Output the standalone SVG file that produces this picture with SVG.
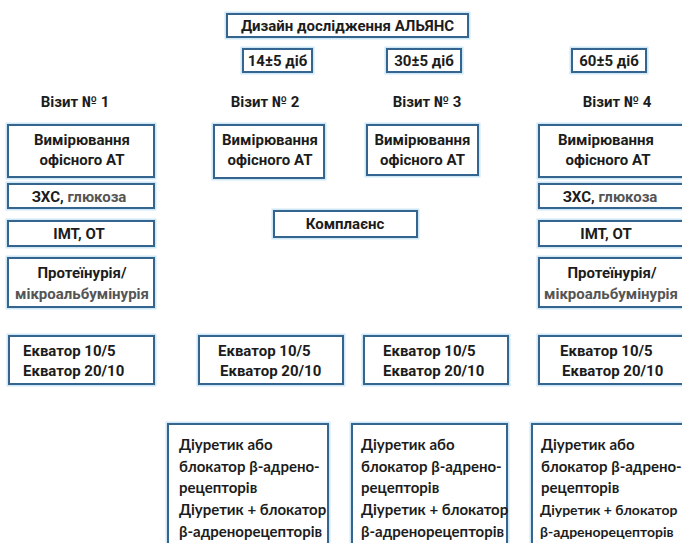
<svg xmlns="http://www.w3.org/2000/svg" width="682" height="543" viewBox="0 0 682 543">
<style>
.bx{fill:#ffffff;stroke:#35648f;stroke-width:2}
.halo{fill:none;stroke:#cfe8f5;stroke-width:5}
.t{font-family:Roboto,"Liberation Sans",sans-serif;font-weight:bold;font-size:15px;fill:#1c1c1c}
.v{font-family:Roboto,"Liberation Sans",sans-serif;font-weight:bold;font-size:15px;fill:#1c1c1c}
.e{font-family:Roboto,"Liberation Sans",sans-serif;font-weight:bold;font-size:15px;fill:#1c1c1c}
.d{font-family:Lato,"Open Sans",sans-serif;font-weight:bold;font-size:15px;fill:#1c1c1c}
.s{font-size:14px}
.c{text-anchor:middle}
.g{fill:#555555}
</style>
<rect width="682" height="543" fill="#ffffff"/>
<g id="connectors"/>
<g id="title"><rect class="halo" x="227" y="14" width="241" height="23"/><rect class="bx" x="227" y="14" width="241" height="23"/><text class="t c" x="347.5" y="30.5">Дизайн дослідження АЛЬЯНС</text></g>
<g id="d14"><rect class="halo" x="243" y="49" width="69" height="23"/><rect class="bx" x="243" y="49" width="69" height="23"/><text class="t c" x="277.5" y="66">14±5 діб</text></g>
<g id="d30"><rect class="halo" x="387" y="49" width="74" height="23"/><rect class="bx" x="387" y="49" width="74" height="23"/><text class="t c" x="424" y="66">30±5 діб</text></g>
<g id="d60"><rect class="halo" x="572" y="49" width="74" height="23"/><rect class="bx" x="572" y="49" width="74" height="23"/><text class="t c" x="609" y="66">60±5 діб</text></g>
<g id="visits">
<text class="v c" x="75" y="107">Візит № 1</text>
<text class="v c" x="265" y="107">Візит № 2</text>
<text class="v c" x="427" y="107">Візит № 3</text>
<text class="v c" x="617" y="107">Візит № 4</text>
</g>
<g id="v1-bp"><rect class="halo" x="8" y="125" width="146" height="52"/><rect class="bx" x="8" y="125" width="146" height="52"/><text class="t c" x="82" y="145">Вимірювання</text><text class="t c" x="82" y="165">офісного АТ</text></g>
<g id="v1-lab"><rect class="halo" x="8" y="184" width="146" height="24"/><rect class="bx" x="8" y="184" width="146" height="24"/><text class="t c" x="79" y="202">ЗХС, <tspan class="g">глюкоза</tspan></text></g>
<g id="v1-bmi"><rect class="halo" x="8" y="221" width="146" height="25"/><rect class="bx" x="8" y="221" width="146" height="25"/><text class="t c" x="79" y="239">ІМТ, ОТ</text></g>
<g id="v1-prot"><rect class="halo" x="8" y="258" width="146" height="49"/><rect class="bx" x="8" y="258" width="146" height="49"/><text class="t c" x="82" y="278">Протеїнурія/</text><text class="t c" x="82" y="299"><tspan class="g">мікроальбумінурія</tspan></text></g>
<g id="v2-bp"><rect class="halo" x="214" y="125" width="110" height="53"/><rect class="bx" x="214" y="125" width="110" height="53"/><text class="t c" x="270" y="145">Вимірювання</text><text class="t c" x="270" y="165">офісного АТ</text></g>
<g id="v3-bp"><rect class="halo" x="367" y="125" width="111" height="50"/><rect class="bx" x="367" y="125" width="111" height="50"/><text class="t c" x="422.5" y="145">Вимірювання</text><text class="t c" x="422.5" y="165">офісного АТ</text></g>
<g id="compliance"><rect class="halo" x="274" y="211" width="143" height="26"/><rect class="bx" x="274" y="211" width="143" height="26"/><text class="t c" x="345" y="229">Комплаєнс</text></g>
<g id="v4-bp"><rect class="halo" x="539" y="125" width="146" height="52"/><rect class="bx" x="539" y="125" width="146" height="52"/><text class="t c" x="606" y="145">Вимірювання</text><text class="t c" x="608" y="165">офісного АТ</text></g>
<g id="v4-lab"><rect class="halo" x="539" y="184" width="146" height="24"/><rect class="bx" x="539" y="184" width="146" height="24"/><text class="t c" x="610" y="202">ЗХС, <tspan class="g">глюкоза</tspan></text></g>
<g id="v4-bmi"><rect class="halo" x="539" y="221" width="146" height="25"/><rect class="bx" x="539" y="221" width="146" height="25"/><text class="t c" x="606" y="239">ІМТ, ОТ</text></g>
<g id="v4-prot"><rect class="halo" x="539" y="258" width="146" height="49"/><rect class="bx" x="539" y="258" width="146" height="49"/><text class="t c" x="612" y="278">Протеїнурія/</text><text class="t c" x="611" y="299"><tspan class="g">мікроальбумінурія</tspan></text></g>
<g id="eq1"><rect class="halo" x="9" y="336" width="145" height="48"/><rect class="bx" x="9" y="336" width="145" height="48"/><text class="e" x="23" y="356">Екватор 10/5</text><text class="e" x="23" y="376">Екватор 20/10</text></g>
<g id="eq2"><rect class="halo" x="199" y="336" width="144" height="48"/><rect class="bx" x="199" y="336" width="144" height="48"/><text class="e" x="218" y="356">Екватор 10/5</text><text class="e" x="220" y="376">Екватор 20/10</text></g>
<g id="eq3"><rect class="halo" x="364" y="336" width="144" height="48"/><rect class="bx" x="364" y="336" width="144" height="48"/><text class="e" x="383" y="356">Екватор 10/5</text><text class="e" x="383" y="376">Екватор 20/10</text></g>
<g id="eq4"><rect class="halo" x="539" y="336" width="146" height="48"/><rect class="bx" x="539" y="336" width="146" height="48"/><text class="e" x="560" y="356">Екватор 10/5</text><text class="e" x="562" y="376">Екватор 20/10</text></g>
<g id="rx2"><rect class="halo" x="168" y="424" width="160" height="125"/><rect class="bx" x="168" y="424" width="160" height="125"/><text class="d" x="179" y="450">Діуретик або</text><text class="d" x="179" y="472">блокатор β-адрено-</text><text class="d" x="179" y="493">рецепторів</text><text class="d" x="179" y="515">Діуретик + блокатор</text><text class="d" x="179" y="537">β-адренорецепторів</text></g>
<g id="rx3"><rect class="halo" x="352" y="424" width="155" height="125"/><rect class="bx" x="352" y="424" width="155" height="125"/><text class="d" x="361" y="450">Діуретик або</text><text class="d" x="361" y="472">блокатор β-адрено-</text><text class="d" x="361" y="493">рецепторів</text><text class="d" x="361" y="515">Діуретик + блокатор</text><text class="d" x="361" y="537">β-адренорецепторів</text></g>
<g id="rx4"><rect class="halo" x="532" y="424" width="158" height="125"/><rect class="bx" x="532" y="424" width="158" height="125"/><text class="d" x="541" y="450">Діуретик або</text><text class="d" x="541" y="472">блокатор β-адрено-</text><text class="d" x="541" y="493">рецепторів</text><text class="d s" x="540" y="515">Діуретик + блокатор</text><text class="d s" x="540" y="537">β-адренорецепторів</text></g>
</svg>
